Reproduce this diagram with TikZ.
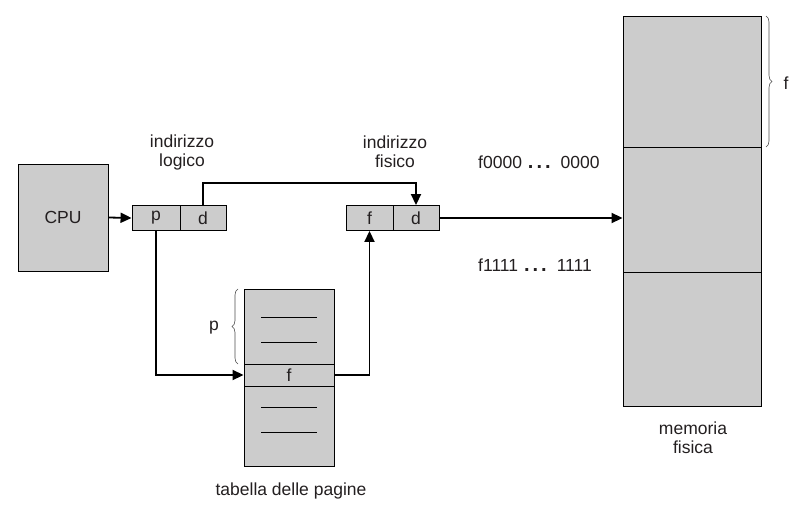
\documentclass[tikz,border=0pt]{standalone}
\usepackage{fontspec}
\setmainfont{Liberation Sans}
\usetikzlibrary{arrows.meta,decorations.pathreplacing}
\definecolor{memgray}{HTML}{CCCCCC}
\definecolor{inkdark}{HTML}{231F20}
\newcommand{\bigdots}{\hspace{6pt}{\fontsize{20}{20}\selectfont\bfseries .\hspace{3pt}.\hspace{3pt}.}\hspace{10pt}}

\begin{document}
\begin{tikzpicture}[x=1pt,y=-1pt,font=\fontsize{17.5}{19}\selectfont,text=inkdark,
  cell/.style={draw,fill=memgray,line width=0.9pt,inner sep=0pt,minimum height=25pt},
  block/.style={draw,fill=memgray,line width=0.9pt,inner sep=0pt,minimum width=#1},
  link/.style={line width=1.8pt,-{Triangle[length=11pt,width=10pt]}},
  bracefig/.style={draw=black!70,line width=0.6pt,decorate,decoration={brace,amplitude=6pt}},
  lbl/.style={align=center,inner sep=0pt}]
  \useasboundingbox (0,0) rectangle (796,511);
  % CPU
  \node[block=90pt,minimum height=107pt] (cpu) at (63,217.5) {CPU};
  % indirizzo logico
  \node[cell,minimum width=48pt] (lp) at (156,218) {p};
  \node[cell,minimum width=46pt] (ld) at (203,218) {d};
  \node[lbl] (loglbl) at (182,152) {indirizzo\\logico};
  % indirizzo fisico
  \node[cell,minimum width=47pt] (pf) at (369.5,218) {f};
  \node[cell,minimum width=46pt] (pd) at (416,218) {d};
  \node[lbl] (fislbl) at (395,152) {indirizzo\\fisico};
  % tabella delle pagine
  \node[block=90pt,minimum height=75pt] (ttop) at (289,326.5) {};
  \node[block=90pt,minimum height=22pt] (trow) at (289,375) {f};
  \node[block=90pt,minimum height=80pt] (tbot) at (289,426) {};
  \foreach \yy in {317,342,407,432}
    \draw[line width=0.8pt] (261,\yy) -- (317,\yy);
  \node[lbl] (tablbl) at (291,491) {tabella delle pagine};
  \draw[bracefig] (238,364) -- (238,289);
  \node[lbl] (plbl) at (214,328) {p};
  % memoria fisica
  \node[block=138pt,minimum height=131pt] (mtop) at (692,81.5) {};
  \node[block=138pt,minimum height=125pt] (mmid) at (692,209.5) {};
  \node[block=138pt,minimum height=134pt] (mbot) at (692,339) {};
  \node[lbl] (memlbl) at (693,438) {memoria\\fisica};
  \draw[bracefig] (766,16) -- (766,147);
  \node[lbl] (flbl) at (786,83) {f};
  \node[lbl,anchor=west] (lowlbl) at (478,162) {f0000\bigdots0000};
  \node[lbl,anchor=west] (highlbl) at (478,265) {f1111\bigdots1111};
  % collegamenti
  \draw[link] (cpu.east) -- (lp.west);
  \draw[link] (ld.north) -- ++(0,-22) -| (pd.north);
  \draw[link] (lp.south) |- (trow.west);
  \draw[link] (trow.east) -| (pf.south);
  \draw[link] (pd.east) -- (pd.east -| mmid.west);
\end{tikzpicture}
\end{document}
